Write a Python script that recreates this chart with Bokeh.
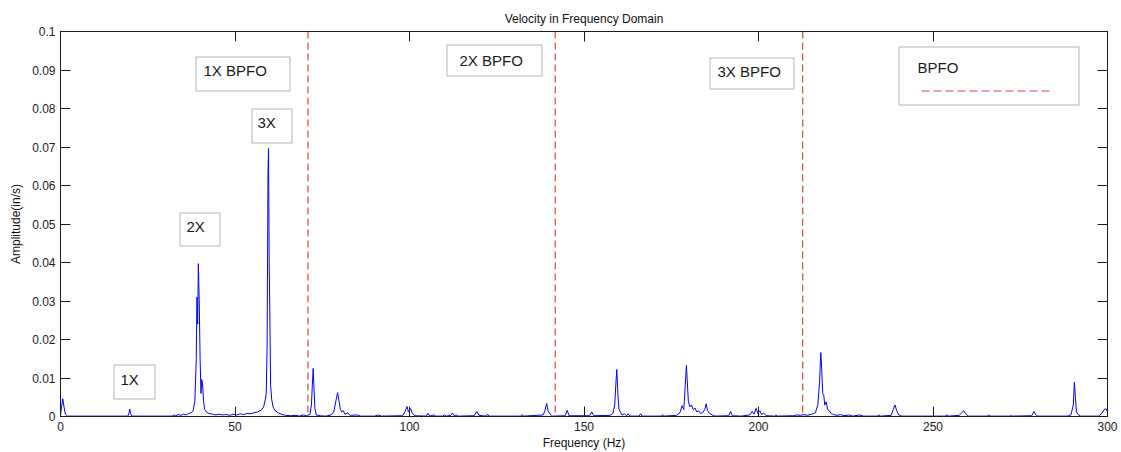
from bokeh.plotting import figure
from bokeh.models import Span, Label, BoxAnnotation, LinearAxis, FixedTicker, Range1d
from bokeh.embed import file_html
from bokeh.resources import INLINE

# ---------------- data ----------------
freq_hz = [
    0, 0.3, 0.65, 1.0, 1.4, 2.0,
    19.3, 19.6, 19.85, 20.1, 20.5,
    32.0, 32.5, 33.0, 33.8, 34.5, 35.3, 36.0, 36.8, 37.5, 38.0, 38.5, 38.9, 39.1, 39.3,
    39.5, 39.75, 40.0, 40.25, 40.45, 40.7, 41.0, 41.3, 41.8, 42.5, 43.5, 44.5, 45.5,
    46.5, 47.5, 48.5, 49.5, 50.5, 51.5, 52.5, 53.5, 54.5, 55.5, 56.5, 57.5, 58.2, 58.7,
    58.95, 59.2, 59.45, 59.6, 59.8, 60.0, 60.2, 60.5, 60.9, 61.5, 62.5, 63.5, 64.5,
    66.0, 67.5, 68.5, 69.5, 70.5, 71.5, 71.9, 72.15, 72.4, 72.65, 72.9, 73.3, 74.5,
    76.0, 77.5, 78.3, 78.9, 79.4, 79.8, 80.2, 80.6, 81.0, 81.5, 82.3, 83.0, 85.0, 86.0,
    90.0, 91.0, 92.0, 98.0, 98.7, 99.3, 99.7, 100.3, 100.8, 101.5, 104.8, 105.3, 105.8,
    107.0, 107.5, 109.5, 110.0, 110.5, 111.8, 112.3, 112.8, 113.4, 114.0, 118.5, 119.3,
    119.9, 122.0, 122.4, 122.8, 132.0, 132.3, 132.7, 138.3, 138.8, 139.3, 139.7, 140.3,
    141.0, 144.6, 145.2, 145.7, 151.6, 152.2, 152.8, 157.5, 158.3, 158.8, 159.1, 159.4,
    159.7, 160.0, 160.4, 160.9, 161.6, 162.2, 162.6, 163.2, 165.8, 166.2, 166.6, 172.2,
    172.5, 172.8, 176.5, 177.5, 178.1, 178.6, 179.0, 179.35, 179.6, 179.9, 180.3, 180.8,
    181.3, 181.8, 182.3, 182.8, 183.4, 184.0, 184.6, 185.0, 185.4, 186.0, 186.8, 187.5,
    191.5, 192.0, 192.5, 195.0, 197.5, 198.2, 198.7, 199.3, 199.8, 200.4, 200.9, 201.5,
    202.2, 204.6, 205.0, 205.4, 210.0, 211.0, 212.0, 213.0, 214.0, 215.2, 216.3, 217.0,
    217.5, 217.85, 218.1, 218.4, 218.7, 219.0, 219.4, 219.8, 220.3, 220.8, 221.5, 222.5,
    223.5, 224.5, 226.0, 227.0, 229.0, 230.0, 234.0, 234.5, 235.0, 238.0, 238.6, 239.1,
    239.6, 240.2, 241.0, 250.0, 253.5, 254.0, 254.5, 257.5, 258.2, 258.8, 259.4, 260.0,
    265.5, 266.0, 266.5, 272.0, 272.3, 272.6, 278.3, 278.9, 279.4, 280.0, 288.5, 289.5,
    290.2, 290.5, 290.8, 291.1, 291.6, 292.3, 297.5, 298.4, 299.0, 299.6, 300.0,
]
amp_ins = [
    0.0003, 0.0025, 0.0046, 0.0025, 0.0006, 0.0001,
    0.0001, 0.0008, 0.0019, 0.0007, 0.0001,
    0.0001, 0.0004, 0.0002, 0.0005, 0.0003, 0.0006, 0.0004, 0.0008, 0.0010, 0.0015, 0.0040, 0.0150, 0.0310, 0.0240,
    0.0397, 0.0300, 0.0150, 0.0060, 0.0096, 0.0085, 0.0040, 0.0018, 0.0012, 0.0008, 0.0006, 0.0004, 0.0006,
    0.0004, 0.0005, 0.0003, 0.0006, 0.0004, 0.0007, 0.0005, 0.0008, 0.0007, 0.0010, 0.0012, 0.0016, 0.0025, 0.0045,
    0.0060, 0.0180, 0.0626, 0.0696, 0.0400, 0.0250, 0.0080, 0.0045, 0.0025, 0.0015, 0.0009, 0.0005, 0.0003,
    0.0002, 0.0003, 0.0001, 0.0004, 0.0002, 0.0006, 0.0030, 0.0080, 0.0125, 0.0070, 0.0020, 0.0004, 0.0002,
    0.0001, 0.0004, 0.0012, 0.0040, 0.0062, 0.0040, 0.0018, 0.0012, 0.0015, 0.0006, 0.0009, 0.0003, 0.0004, 0.0001,
    0.0001, 0.0004, 0.0001, 0.0002, 0.0012, 0.0026, 0.0012, 0.0021, 0.0008, 0.0002, 0.0001, 0.0008, 0.0001,
    0.0004, 0.0001, 0.0001, 0.0004, 0.0001, 0.0003, 0.0009, 0.0002, 0.0004, 0.0001, 0.0002, 0.0013,
    0.0003, 0.0001, 0.0006, 0.0001, 0.0001, 0.0005, 0.0001, 0.0004, 0.0015, 0.0034, 0.0014, 0.0006,
    0.0001, 0.0002, 0.0016, 0.0002, 0.0002, 0.0012, 0.0002, 0.0003, 0.0008, 0.0030, 0.0080, 0.0122,
    0.0060, 0.0020, 0.0012, 0.0004, 0.0007, 0.0002, 0.0007, 0.0001, 0.0001, 0.0007, 0.0001, 0.0001,
    0.0005, 0.0001, 0.0003, 0.0010, 0.0028, 0.0018, 0.0080, 0.0133, 0.0090, 0.0040, 0.0025, 0.0030,
    0.0018, 0.0022, 0.0012, 0.0015, 0.0008, 0.0010, 0.0018, 0.0033, 0.0015, 0.0008, 0.0004, 0.0001,
    0.0002, 0.0013, 0.0002, 0.0001, 0.0004, 0.0013, 0.0006, 0.0021, 0.0008, 0.0015, 0.0005, 0.0009,
    0.0002, 0.0001, 0.0004, 0.0001, 0.0002, 0.0004, 0.0003, 0.0005, 0.0003, 0.0006, 0.0010, 0.0030,
    0.0090, 0.0166, 0.0125, 0.0060, 0.0055, 0.0030, 0.0038, 0.0018, 0.0015, 0.0008, 0.0005, 0.0003,
    0.0005, 0.0002, 0.0004, 0.0001, 0.0004, 0.0001, 0.0001, 0.0004, 0.0001, 0.0003, 0.0018, 0.0030,
    0.0015, 0.0004, 0.0001, 0.0001, 0.0001, 0.0004, 0.0001, 0.0003, 0.0009, 0.0015, 0.0007, 0.0001,
    0.0001, 0.0004, 0.0001, 0.0001, 0.0003, 0.0001, 0.0002, 0.0013, 0.0005, 0.0001, 0.0001, 0.0004,
    0.0030, 0.0089, 0.0050, 0.0012, 0.0005, 0.0001, 0.0001, 0.0008, 0.0018, 0.0020, 0.0012,
]
bpfo_hz = [70.9, 141.75, 212.65]

x_ticks = [0, 50, 100, 150, 200, 250, 300]
x_tick_labels = ["0", "50", "100", "150", "200", "250", "300"]
y_ticks = [0, 0.01, 0.02, 0.03, 0.04, 0.05, 0.06, 0.07, 0.08, 0.09, 0.1]
y_tick_labels = ["0", "0.01", "0.02", "0.03", "0.04", "0.05", "0.06", "0.07", "0.08", "0.09", "0.1"]

annotation_texts = ["1X", "2X", "3X", "1X BPFO", "2X BPFO", "3X BPFO"]
legend_text = "BPFO"

# ---------------- layout helpers (pixel placement of annotation boxes) ----------------
FL, FR, FT, FB = 60, 1107, 31, 416  # frame edges in page pixels


def px_x(px):
    return (px - FL) / (FR - FL) * 300.0


def px_y(py):
    return (FB - py) / (FB - FT) * 0.1


FONT = "Liberation Sans"
INK = "#1a1a1a"

p = figure(
    width=1121, height=452,
    x_range=Range1d(0, 300), y_range=Range1d(0, 0.1),
    output_backend="svg", toolbar_location=None,
    min_border_left=FL, min_border_right=1121 - FR,
    min_border_top=FT, min_border_bottom=452 - FB,
    title="Velocity in Frequency Domain",
)
p.background_fill_color = "white"
p.border_fill_color = "white"
p.outline_line_color = INK
p.grid.visible = False

p.title.align = "center"
p.title.text_font = FONT
p.title.text_font_size = "12px"
p.title.text_font_style = "normal"
p.title.text_color = "#111111"
p.title.offset = 0
p.title.standoff = 12

xlab = {t: l for t, l in zip(x_ticks, x_tick_labels)}
ylab = {t: l for t, l in zip(y_ticks, y_tick_labels)}

for ax in p.xaxis:
    ax.ticker = FixedTicker(ticks=x_ticks)
    ax.major_label_overrides = xlab
    ax.axis_label = "Frequency (Hz)"
for ax in p.yaxis:
    ax.ticker = FixedTicker(ticks=y_ticks)
    ax.major_label_overrides = ylab
    ax.axis_label = "Amplitude(in/s)"

for ax in list(p.xaxis) + list(p.yaxis):
    ax.major_tick_in = 10
    ax.major_tick_out = 0
    ax.minor_tick_line_color = None
    ax.axis_line_color = INK
    ax.major_tick_line_color = INK
    ax.major_label_text_font = FONT
    ax.major_label_text_font_size = "12px"
    ax.major_label_text_color = "#222222"
    ax.axis_label_text_font = FONT
    ax.axis_label_text_font_size = "12px"
    ax.axis_label_text_font_style = "normal"
    ax.axis_label_text_color = "#111111"
    ax.major_label_standoff = 5
p.xaxis.axis_label_standoff = 2
p.yaxis.axis_label_standoff = 6

# mirrored tick axes (top / right), without labels
top_ax = LinearAxis(ticker=FixedTicker(ticks=x_ticks), major_tick_in=10, major_tick_out=0,
                    minor_tick_line_color=None, major_label_text_color=None,
                    major_label_text_font_size="1px", major_label_standoff=0,
                    axis_line_color=INK, major_tick_line_color=INK)
right_ax = LinearAxis(ticker=FixedTicker(ticks=y_ticks), major_tick_in=10, major_tick_out=0,
                      minor_tick_line_color=None, major_label_text_color=None,
                      major_label_text_font_size="1px", major_label_standoff=0,
                      axis_line_color=INK, major_tick_line_color=INK)
p.add_layout(top_ax, "above")
p.add_layout(right_ax, "right")

# spectrum
p.line(freq_hz, amp_ins, line_color="#0000ff", line_width=1)

# BPFO harmonics
RED = "#e04444"
for f in bpfo_hz:
    p.add_layout(Span(location=f, dimension="height", line_color=RED,
                      line_dash="7 4", line_width=1.2))

# annotation boxes: (text, box left, box top, box right, box bottom, text left, text center y) in page px
boxes = [
    (annotation_texts[0], 113, 364, 154, 398, 120, 379),
    (annotation_texts[1], 179, 212, 219, 245, 186, 226),
    (annotation_texts[2], 251, 108, 291, 142, 257, 122),
    (annotation_texts[3], 195, 56, 289, 90, 203, 70),
    (annotation_texts[4], 446, 44, 541, 75, 459, 60),
    (annotation_texts[5], 709, 57, 793, 88, 717, 71),
]
H = 0.5  # pixel-centre snap for crisp 1px borders
for txt, bl, bt, br, bb, tx, ty in boxes:
    p.add_layout(BoxAnnotation(left=px_x(bl + H), right=px_x(br + H), top=px_y(bt + H), bottom=px_y(bb + H),
                               fill_color=None, line_color="#111111", line_width=1))
    p.add_layout(Label(x=px_x(tx), y=px_y(ty), text=txt, text_font=FONT,
                       text_font_size="15px", text_baseline="middle", text_align="left",
                       text_color="#1a1a1a"))

# legend-like box
p.add_layout(BoxAnnotation(left=px_x(898 + H), right=px_x(1078 + H), top=px_y(46 + H), bottom=px_y(104 + H),
                           fill_color=None, line_color="#111111", line_width=1))
p.add_layout(Label(x=px_x(917), y=px_y(67), text=legend_text, text_font=FONT,
                   text_font_size="15px", text_baseline="middle", text_align="left",
                   text_color="#1a1a1a"))
p.segment(x0=[px_x(921)], y0=[px_y(90 + H)], x1=[px_x(1053)], y1=[px_y(90 + H)],
          line_color=RED, line_dash="8 4", line_width=1.2)

open("out.html", "w").write(file_html(p, INLINE))
